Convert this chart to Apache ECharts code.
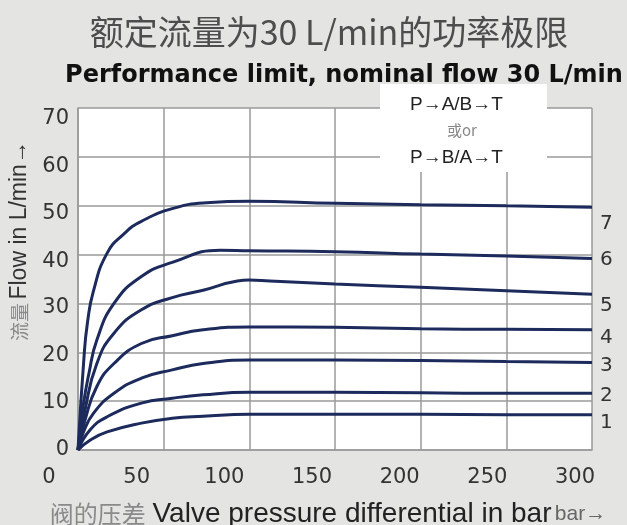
<!DOCTYPE html>
<html>
<head>
<meta charset="utf-8">
<script src="https://cdn.jsdelivr.net/npm/echarts@6/dist/echarts.min.js"></script>
<style>
html,body{margin:0;padding:0;background:#e4e4e2;}
#c{width:627px;height:525px;}
</style>
</head>
<body>
<div id="c"></div>
<script>
// ---- data (pressure bar, flow L/min) ----
const xTicks = [0, 50, 100, 150, 200, 250, 300];
const yTicks = [0, 10, 20, 30, 40, 50, 60, 70];
const curveNames = ['1', '2', '3', '4', '5', '6', '7'];
const curve1 = [[0,0],[7,2],[17,3.7],[37,5.5],[55,6.5],[73,6.9],[100,7.3],[150,7.3],[200,7.3],[250,7.2],[300,7.2]];
const curve2 = [[0,0],[7,4.1],[17,6.8],[37,9.6],[55,10.6],[73,11.3],[100,11.8],[150,11.8],[200,11.7],[250,11.6],[300,11.6]];
const curve3 = [[0,0],[3,3.5],[9,7.5],[21,11.6],[37,14.7],[55,16.4],[73,17.7],[100,18.4],[150,18.4],[200,18.3],[250,18.1],[300,17.9]];
const curve4 = [[0,0],[4,6],[11,13],[21,17.7],[37,21.8],[55,23.4],[73,24.6],[100,25.2],[150,25.1],[200,24.8],[250,24.7],[300,24.6]];
const curve5 = [[0,0],[4,8],[11,17.7],[21,23.9],[37,28.7],[55,31.2],[73,32.7],[93,34.6],[100,34.8],[112,34.6],[150,34.0],[200,33.3],[250,32.6],[300,31.9]];
const curve6 = [[0,0],[3,9],[6.4,15.7],[11,22.5],[21,30],[37,35.5],[55,38.4],[83,40.9],[100,40.8],[150,40.6],[200,40.1],[250,39.7],[300,39.2]];
const curve7 = [[0,0],[3.5,19],[5.5,26],[9,32.5],[17,40.3],[27,44.3],[37,46.8],[56,49.5],[75,50.6],[100,50.9],[150,50.5],[200,50.2],[250,50.0],[300,49.7]];
const curves = [curve1, curve2, curve3, curve4, curve5, curve6, curve7];
const labelDy = [8, 2, 3, 8, 12, 1, 17];

const chart = echarts.init(document.getElementById('c'), null, {renderer: 'canvas'});
const lineColor = '#1c2a5c';
const gridColor = '#9a9a9a';
const numFont = 'DejaVu Sans';
const series = curves.map((d, i) => ({
  name: curveNames[i],
  type: 'line',
  data: d,
  smooth: 0.5,
  showSymbol: false,
  lineStyle: {color: lineColor, width: 3},
  itemStyle: {color: lineColor},
  z: 3,
  endLabel: {
    show: true,
    formatter: '{a}',
    distance: 8,
    offset: [0, labelDy[i]],
    color: '#333',
    fontSize: 20,
    fontFamily: numFont
  }
}));

chart.setOption({
  backgroundColor: '#e4e4e2',
  animation: false,
  title: [
    {text: '额定流量为30 L/min的功率极限', left: 324, top: 10, textAlign: 'center',
     textStyle: {fontFamily: 'Noto Sans CJK SC', fontSize: 34, fontWeight: 'normal', color: '#4d4d4d'}},
    {text: 'Performance limit, nominal flow 30 L/min', left: 339, top: 59, textAlign: 'center',
     textStyle: {fontFamily: 'DejaVu Sans', fontSize: 24, fontWeight: 'bold', color: '#111'}}
  ],
  grid: {left: 78, right: 35, top: 108, bottom: 75, show: true, backgroundColor: '#ffffff', borderWidth: 0,
         containLabel: false, outerBoundsMode: 'none'},
  xAxis: {
    type: 'value', min: 0, max: 300, interval: 50,
    axisLine: {show: true, lineStyle: {color: gridColor, width: 1.5}},
    axisTick: {show: false},
    splitLine: {show: true, lineStyle: {color: gridColor, width: 1.5}},
    axisLabel: {
      margin: 17, fontSize: 21, color: '#333', fontFamily: numFont,
      formatter: v => '{s' + v + '|' + v + '}',
      rich: Object.fromEntries(xTicks.map(v => ['s' + v, {fontSize: 21, color: '#333', fontFamily: numFont,
        padding: [0, Math.round(2 * (29 - 12 * v / 300)), 0, 0]}]))
    },
    name: '{cn|阀的压差}  {en|Valve pressure differential in bar} {sm|bar→}',
    nameLocation: 'middle', nameGap: 50,
    nameTextStyle: {
      padding: [0, 14, 0, 0],
      rich: {
        cn: {fontFamily: 'Noto Sans CJK SC', fontSize: 24, color: '#8a8a8a'},
        en: {fontFamily: 'Liberation Sans', fontSize: 28, color: '#222'},
        sm: {fontFamily: 'Liberation Sans', fontSize: 21, color: '#666'}
      }
    }
  },
  yAxis: {
    type: 'value', min: 0, max: 70, interval: 10,
    axisLine: {show: true, lineStyle: {color: gridColor, width: 1.5}},
    axisTick: {show: false},
    splitLine: {show: true, lineStyle: {color: gridColor, width: 1.5}},
    axisLabel: {
      margin: 9, fontSize: 21, color: '#333', fontFamily: numFont,
      formatter: v => '{s' + v + '|' + v + '}',
      rich: Object.fromEntries(yTicks.map(v => ['s' + v, {fontSize: 21, color: '#333', fontFamily: numFont,
        padding: [Math.max(0, Math.round(2 * (0 + 11 * v / 70))), 0, 0, 0]}]))
    },
    name: '{cn|流量} {en|Flow in L/min→}',
    nameLocation: 'middle', nameRotate: 90, nameGap: 46,
    nameTextStyle: {
      padding: [0, 0, 0, 76],
      rich: {
        cn: {fontFamily: 'Noto Sans CJK SC', fontSize: 19, color: '#8a8a8a'},
        en: {fontFamily: 'Liberation Sans', fontSize: 23, color: '#333'}
      }
    }
  },
  graphic: [
    {type: 'rect', left: 380, top: 84, shape: {width: 167, height: 88}, style: {fill: '#ffffff'}, z: 10},
    {type: 'text', left: 410, top: 95, z: 11, style: {text: 'P→A/B→T', fill: '#222', font: '19px "Liberation Sans"'}},
    {type: 'text', left: 447, top: 123, z: 11, style: {text: '或or', fill: '#888', font: '15px "Noto Sans CJK SC"'}},
    {type: 'text', left: 410, top: 148, z: 11, style: {text: 'P→B/A→T', fill: '#222', font: '19px "Liberation Sans"'}}
  ],
  series: series
});
</script>
</body>
</html>
